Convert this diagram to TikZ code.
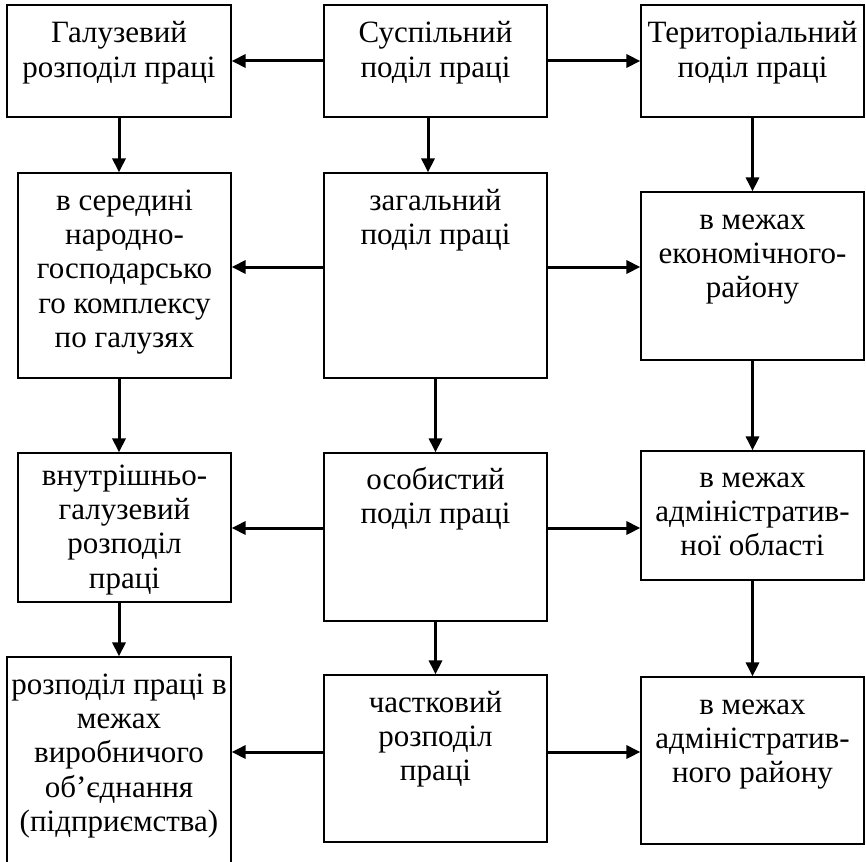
\documentclass[tikz,border=0pt]{standalone}
\usepackage{fontspec}
\setmainfont{Liberation Serif}
\usetikzlibrary{arrows.meta}
\tikzset{
  cell/.style={draw, line width=0.6pt, inner sep=0pt},
  arr/.style={line width=1.5pt, -{Triangle[length=7pt,width=6.5pt]}}
}
% box text: [first baseline], width, height (px), lines from the top
\newcommand{\celltext}[4][18.5pt]{\parbox[c][\dimexpr #3pt/2\relax][t]{\dimexpr #2pt/2\relax}{\centering
  \fontsize{15.5}{17.2}\selectfont\rule{0pt}{#1}#4}}
\begin{document}
\begin{tikzpicture}[x=0.5pt, y=-0.5pt]
      \useasboundingbox (0,0) rectangle (866,861);
      \draw
        (119,61) node[cell] (A1){\celltext[19pt]{224}{112}{Галузевий\\ розподіл праці}}
        (435.5,61) node[cell] (B1){\celltext[19pt]{223}{112}{Суспільний\\ поділ праці}}
        (752.5,61) node[cell] (C1){\celltext[19pt]{223}{112}{Територіальний\\ поділ праці}}
        (124.5,275.5) node[cell] (A2){\celltext{213}{205}{в середині\\ народно-\\ господарсько\\ го комплексу\\ по галузях}}
        (435.5,275.5) node[cell] (B2){\celltext{223}{205}{загальний\\ поділ праці}}
        (752.5,276) node[cell] (C2){\celltext{223}{168}{в межах\\ економічного-\\ району}}
        (124.5,527.5) node[cell] (A3){\celltext[16pt]{213}{149}{внутрішньо-\\ галузевий\\ розподіл\\ праці}}
        (435.5,537) node[cell] (B3){\celltext[18pt]{223}{168}{особистий\\ поділ праці}}
        (752.5,515.5) node[cell] (C3){\celltext[18pt]{223}{129}{в межах\\ адміністратив-\\ ної області}}
        (119,762) node[cell] (A4){\celltext{224}{210}{розподіл праці в\\ межах\\ виробничого\\ об’єднання\\ (підприємства)}}
        (435.5,758.5) node[cell] (B4){\celltext{223}{167}{частковий\\ розподіл\\ праці}}
        (752.5,760.5) node[cell] (C4){\celltext{223}{167}{в межах\\ адміністратив-\\ ного району}};
      % rows of side arrows
      \coordinate (r1) at (B1.west);
      \coordinate (r2) at ([yshift=4.25pt]B2.west);
      \coordinate (r3) at ([yshift=4.5pt]B3.west);
      \coordinate (r4) at ([yshift=3.25pt]B4.west);
      % columns of down arrows
      \coordinate (ca) at (A1.south);
      \coordinate (cb) at ([xshift=-3.75pt]B1.south);
      \coordinate (cc) at (C1.south);
      \begin{scope}[arr]
        \draw (r1) to (r1 -| A1.east);
        \draw (r1 -| B1.east) to (r1 -| C1.west);
        \draw (r2) to (r2 -| A2.east);
        \draw (r2 -| B2.east) to (r2 -| C2.west);
        \draw (r3) to (r3 -| A3.east);
        \draw (r3 -| B3.east) to (r3 -| C3.west);
        \draw (r4) to (r4 -| A4.east);
        \draw (r4 -| B4.east) to (r4 -| C4.west);
        \draw (ca) to (ca |- A2.north);
        \draw (A2.south -| ca) to (A3.north -| ca);
        \draw (A3.south -| ca) to (A4.north -| ca);
        \draw (cb) to (cb |- B2.north);
        \draw (B2.south) to (B3.north);
        \draw (B3.south) to (B4.north);
        \draw (cc) to (cc |- C2.north);
        \draw (C2.south) to (C3.north);
        \draw (C3.south) to (C4.north);
      \end{scope}
\end{tikzpicture}
\end{document}
